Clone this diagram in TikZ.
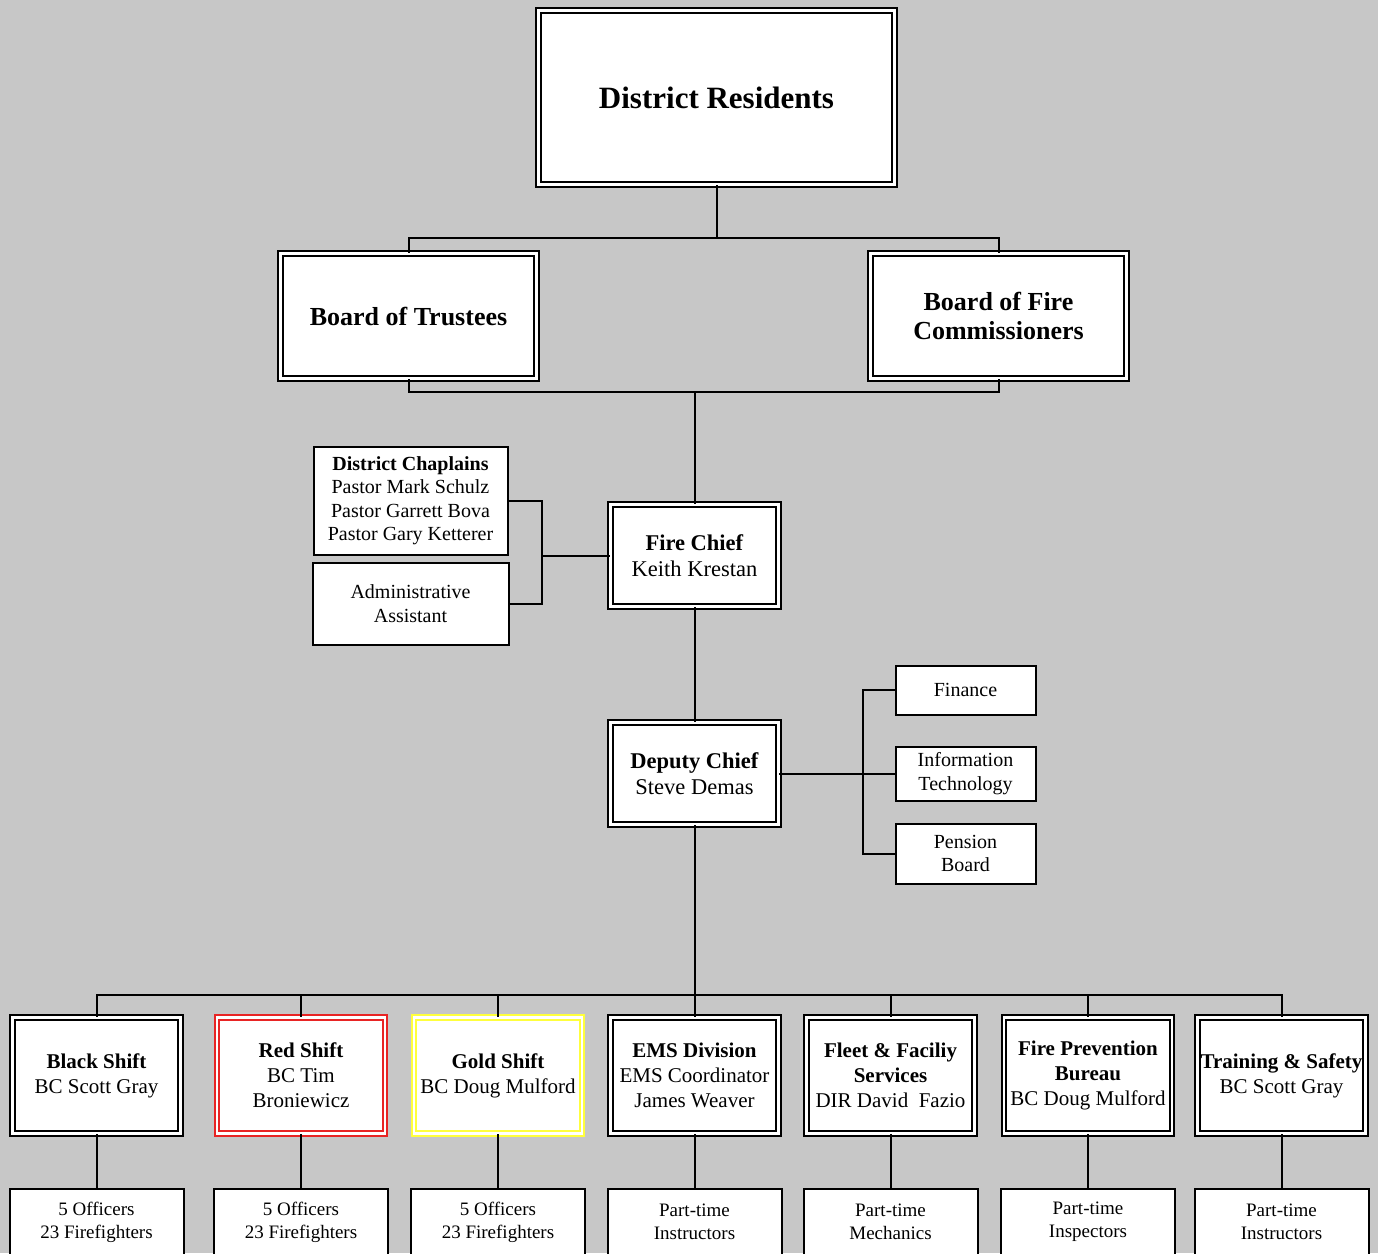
\documentclass[tikz,border=0pt]{standalone}
\usepackage{fontspec}
\setmainfont{Liberation Serif}

\definecolor{bggray}{RGB}{199,199,199}
\definecolor{shiftred}{RGB}{232,36,36}
\definecolor{shiftgold}{RGB}{255,255,60}

\tikzset{
  conn/.style={line width=2pt},
  dblbox/.style={draw=black, double=white, double distance=2.8pt, line width=1.9pt,
    fill=white, align=center, inner sep=0pt},
  plainbox/.style={draw=black, line width=2pt, fill=white, align=center, inner sep=0pt},
  shiftbox/.style={dblbox, minimum width=168pt, minimum height=116pt,
    font=\fontsize{21}{25}\selectfont},
  crewbox/.style={plainbox, minimum width=174pt, minimum height=66pt,
    font=\fontsize{19}{23}\selectfont},
  staffbox/.style={plainbox, font=\fontsize{20}{23.5}\selectfont},
}

\begin{document}
\begin{tikzpicture}[x=1pt,y=-1pt]
  \clip (0,0) rectangle (1378,1253);
  \fill[bggray] (0,0) rectangle (1378,1253);

  \node[dblbox, minimum width=356pt, minimum height=174pt,
    font=\fontsize{31}{37}\selectfont\bfseries] (residents) at (716.5,97.5) {District Residents};
  \node[dblbox, minimum width=256pt, minimum height=125pt,
    font=\fontsize{26}{29}\selectfont\bfseries] (trustees) at (408.5,316) {Board of Trustees};
  \node[dblbox, minimum width=256pt, minimum height=125pt,
    font=\fontsize{26}{29}\selectfont\bfseries] (commissioners) at (998.5,316) {Board of Fire\\Commissioners};

  \node[dblbox, minimum width=168pt, minimum height=102pt,
    font=\fontsize{22.5}{26}\selectfont] (chief) at (694.5,555.5) {\textbf{Fire Chief}\\Keith Krestan};
  \node[dblbox, minimum width=168pt, minimum height=102pt,
    font=\fontsize{22.5}{26}\selectfont] (deputy) at (694.5,773.5) {\textbf{Deputy Chief}\\Steve Demas};

  \node[staffbox, minimum width=194pt, minimum height=108pt] (chaplains) at (410.5,500.5)
    {\textbf{District Chaplains}\\Pastor Mark Schulz\\Pastor Garrett Bova\\Pastor Gary Ketterer};
  \node[staffbox, minimum width=196pt, minimum height=82pt] (admin) at (410.5,603.5)
    {Administrative\\Assistant};

  \node[staffbox, minimum width=140pt, minimum height=49pt] (finance) at (965.5,690) {Finance};
  \node[staffbox, minimum width=140pt, minimum height=54pt] (infotech) at (965.5,773.5) {Information\\Technology};
  \node[staffbox, minimum width=140pt, minimum height=60pt] (pension) at (965.5,853.5) {Pension\\Board};

  \node[shiftbox] (black) at (96.5,1075.5) {\textbf{Black Shift}\\BC Scott Gray};
  \node[shiftbox, draw=shiftred] (red) at (301,1075.5) {\textbf{Red Shift}\\BC Tim\\Broniewicz};
  \node[shiftbox, draw=shiftgold] (gold) at (498,1075.5) {\textbf{Gold Shift}\\BC Doug Mulford};
  \node[shiftbox] (ems) at (694.5,1075.5) {\textbf{EMS Division}\\EMS Coordinator\\James Weaver};
  \node[shiftbox] (fleet) at (890.5,1075.5) {\textbf{Fleet \& Faciliy}\\\textbf{Services}\\DIR David\ \ Fazio};
  \node[shiftbox] (fpb) at (1088,1075.5) {\textbf{Fire Prevention}\\\textbf{Bureau}\\BC Doug Mulford};
  \node[shiftbox] (training) at (1281.5,1075.5) {\textbf{Training \& Safety}\\BC Scott Gray};

  \foreach \n/\x/\t in {black/96.5/{5 Officers\\23 Firefighters},
                        red/301/{5 Officers\\23 Firefighters},
                        gold/498/{5 Officers\\23 Firefighters},
                        ems/694.5/{Part-time\\Instructors},
                        fleet/890.5/{Part-time\\Mechanics},
                        fpb/1088/{Part-time\\Inspectors},
                        training/1281.5/{Part-time\\Instructors}} {
    \node[crewbox] (\n-crew) at (\x,1222) {\t};
    \draw[conn] (\n.south) -- (\n-crew.north);
  }

  \coordinate (topbus) at (716.5,238);
  \coordinate (boardbus) at (694.5,392);
  \coordinate (chapbus) at (542,555.5);
  \coordinate (staffbus) at (863,773.5);
  \coordinate (shiftbus) at (694.5,995);

  \draw[conn] (residents) -- (topbus);
  \draw[conn] (trustees.north) |- (topbus) -| (commissioners.north);
  \draw[conn] (trustees.south) |- (boardbus) -| (commissioners.south);
  \draw[conn] (boardbus) -- (chief);
  \draw[conn] (chaplains.east) -| (chapbus) |- (admin.east);
  \draw[conn] (chapbus) -- (chief);
  \draw[conn] (chief) -- (deputy);
  \draw[conn] (deputy) -- (infotech);
  \draw[conn] (finance.west) -| (staffbus) |- (pension.west);
  \draw[conn] (deputy) -- (shiftbus);
  \draw[conn] (black.north) |- (shiftbus) -| (training.north);
  \foreach \n in {red,gold,ems,fleet,fpb}
    \draw[conn] (\n.north) -- (\n.north |- shiftbus);
\end{tikzpicture}
\end{document}
